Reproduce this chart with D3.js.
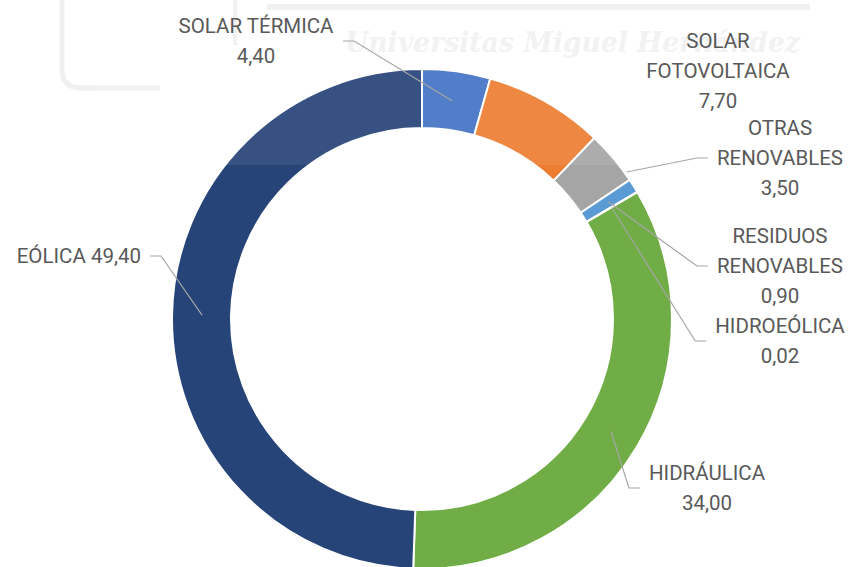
<meta charset="utf-8">
<title>Energías renovables</title>
<body style="margin:0;background:#fff">
<script src="https://cdn.jsdelivr.net/npm/d3@7"></script>
<script>
// reparto por tecnología (orden de las agujas del reloj desde arriba)
var categories = ['SOLAR TÉRMICA', 'SOLAR FOTOVOLTAICA', 'OTRAS RENOVABLES', 'RESIDUOS RENOVABLES', 'HIDROEÓLICA', 'HIDRÁULICA', 'EÓLICA'];
var values = [4.40, 7.70, 3.50, 0.90, 0.02, 34.00, 49.40];
var labelLines = [['SOLAR TÉRMICA'], ['SOLAR', 'FOTOVOLTAICA'], ['OTRAS', 'RENOVABLES'], ['RESIDUOS', 'RENOVABLES'], ['HIDROEÓLICA'], ['HIDRÁULICA'], ['EÓLICA']];
var colors = ['#4472C4', '#ED7D31', '#A5A5A5', '#5B9BD5', '#FFC000', '#70AD47', '#264478'];

var width = 850, height = 567;
var cx = 422, cy = 319, outerR = 250, innerR = 191;

// label placement: x, first baseline, anchor, leader side, where the leader touches the slice
var layout = [
  {x: 256, y: 33, anchor: 'middle', side: 'right', t: 0.5, r: 220},
  {x: 718, y: 48, anchor: 'middle', side: null},
  {x: 780, y: 135, anchor: 'middle', side: 'left', t: 0.85, r: 252},
  {x: 780, y: 243, anchor: 'middle', side: 'left', t: 0.5, r: 220},
  {x: 780, y: 333, anchor: 'middle', side: 'left', t: 0.5, r: 220},
  {x: 707, y: 480, anchor: 'middle', side: 'left', t: 0.5, r: 220},
  {x: 141, y: 263, anchor: 'end', side: 'right', t: 0.5, r: 220, inline: true}
];

var fmt = d3.formatLocale({decimal: ',', thousands: '.', grouping: [3], currency: ['', '€']}).format('.2f');

var svg = d3.select('body').append('svg')
    .attr('width', width)
    .attr('height', height)
    .style('display', 'block');

// marca de agua de fondo
var wm = svg.append('g').attr('fill', 'none').attr('stroke', '#f0f0f0');
wm.append('path').attr('d', 'M62,0 V70 Q62,88 82,88 H160').attr('stroke-width', 5);
wm.append('path').attr('d', 'M235,0 V45').attr('stroke-width', 4);
wm.append('path').attr('d', 'M267,7 H810').attr('stroke-width', 6);
svg.append('text')
    .attr('x', 345).attr('y', 52)
    .attr('textLength', 455).attr('lengthAdjust', 'spacingAndGlyphs')
    .style('font-family', 'DejaVu Serif').style('font-style', 'italic').style('font-weight', 'bold')
    .style('font-size', '28px').style('fill', '#f1f1f1')
    .text('Universitas Miguel Hernández');

var pie = d3.pie().sort(null).value(function(d) { return d; });
var arcs = pie(values);
var arc = d3.arc().innerRadius(innerR).outerRadius(outerR);

var g = svg.append('g').attr('transform', 'translate(' + cx + ',' + cy + ')');
g.selectAll('path.slice')
  .data(arcs)
  .enter().append('path')
    .attr('class', 'slice')
    .attr('d', arc)
    .style('fill', function(d, i) { return colors[i]; })
    .style('stroke', '#fff')
    .style('stroke-width', 2);

// velo claro de la marca de agua
svg.append('rect').attr('x', 100).attr('y', 0).attr('width', 720).attr('height', 165)
    .style('fill', '#fff').style('opacity', 0.08);

var lineH = 30;
var labels = svg.append('g')
    .style('font-family', 'Roboto, "Open Sans", sans-serif')
    .style('font-size', '20.5px')
    .style('fill', '#595959');

arcs.forEach(function(a, i) {
  var L = layout[i];
  var lines = labelLines[i].slice();
  if (L.inline) lines[lines.length - 1] += ' ' + fmt(values[i]);
  else lines.push(fmt(values[i]));

  var t = labels.append('text')
      .attr('text-anchor', L.anchor);
  lines.forEach(function(s, k) {
    t.append('tspan').attr('x', L.x).attr('y', L.y + k * lineH).text(s);
  });

  if (!L.side) return;
  var bb = t.node().getBBox();
  var ly = (L.y + L.y + (lines.length - 1) * lineH) / 2 - 7;
  var ang = a.startAngle + (a.endAngle - a.startAngle) * L.t;
  var ax = cx + L.r * Math.sin(ang), ay = cy - L.r * Math.cos(ang);
  var x0, x1;
  if (L.side === 'right') { x0 = bb.x + bb.width + 9; x1 = x0 + 11; }
  else { x0 = bb.x - 9; x1 = x0 - 11; }
  svg.append('path')
      .attr('d', 'M' + x0 + ',' + ly + 'L' + x1 + ',' + ly + 'L' + ax + ',' + ay)
      .style('fill', 'none')
      .style('stroke', '#a6a6a6')
      .style('stroke-width', 1.2);
});
</script>
</body>
